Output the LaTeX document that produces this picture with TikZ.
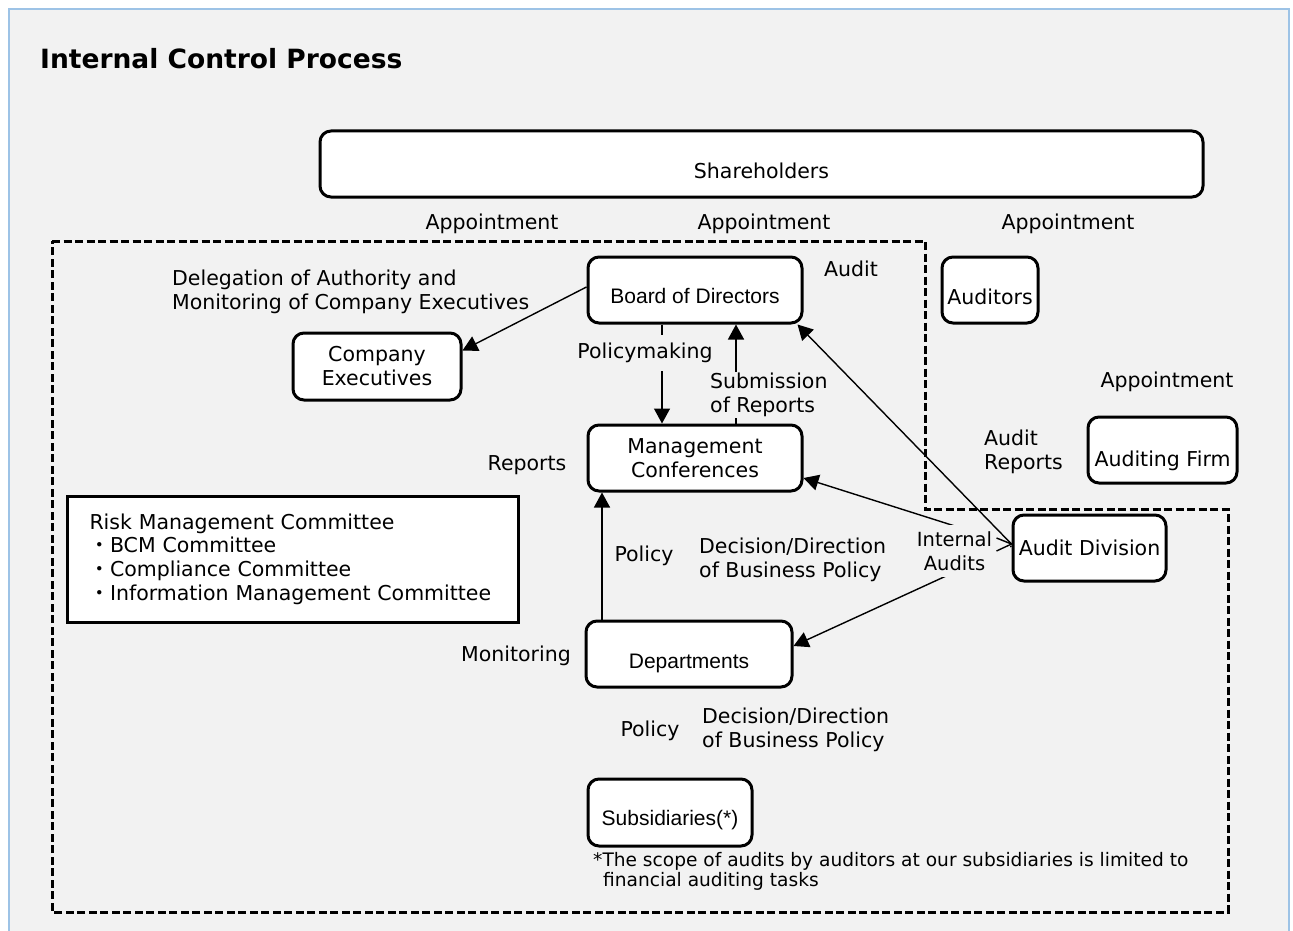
\documentclass[tikz,border=0pt]{standalone}
\usepackage{fontspec}
\setmainfont{DejaVu Sans}
\newfontfamily\arialf{Liberation Sans}
\newfontfamily\cjk{Noto Sans CJK JP}
\usetikzlibrary{arrows.meta,calc}
\definecolor{bgc}{HTML}{F2F2F2}
\definecolor{framec}{HTML}{9DC3E6}
\newcommand\lowertext[2]{\raisebox{-#1}[\height][\depth]{#2}}
\begin{document}
\begin{tikzpicture}[x=1pt,y=-1pt,
  lbl/.style={font=\fontsize{20.5}{24}\selectfont, inner sep=0pt},
  box/.style={draw, line width=3pt, rounded corners=11pt, fill=white, inner sep=0pt,
    font=\fontsize{20.5}{24}\selectfont, align=center},
  abox/.style={box, font=\arialf\fontsize{21}{24}\selectfont},
  conn/.style={line width=1.4pt},
  tri/.style={-{Triangle[length=15pt,width=16pt]}},
  dashreg/.style={line width=3pt, dash pattern=on 8pt off 3.5pt}]

\useasboundingbox (0,0) rectangle (1293,931);
\fill[white] (0,0) rectangle (1293,931);
\draw[framec, fill=bgc, line width=2.4pt] (9,9) rectangle (1289,960);

\node[anchor=base west, font=\bfseries\fontsize{26.5}{30}\selectfont, inner sep=0pt] (title) at (40,69) {Internal Control Process};

% dashed region
\draw[dashreg] (52,241) -- (925,241) -- (925,509) -- (1228,509) -- (1228,912) -- (52,912) -- cycle;

% boxes
\node[box, minimum width=883pt, minimum height=66pt] (sh) at (761.5,164) {\lowertext{7pt}{Shareholders}};
\node[abox, minimum width=214pt, minimum height=66pt] (bd) at (695,290) {\lowertext{6pt}{Board of Directors}};
\node[box, minimum width=96pt, minimum height=66pt] (au) at (990,290) {\lowertext{7pt}{Auditors}};
\node[box, minimum width=149pt, minimum height=66pt] (af) at (1162.5,450) {\lowertext{11pt}{Auditing Firm}};
\node[box, minimum width=153pt, minimum height=66pt] (ad) at (1089.5,548) {Audit Division};
\node[box, minimum width=214pt, minimum height=66pt] (mc) at (695,458) {Management\\Conferences};
\node[box, minimum width=168pt, minimum height=67pt] (ce) at (377,366.5) {Company\\Executives};
\node[abox, minimum width=206pt, minimum height=66pt] (dp) at (689,654) {\lowertext{9pt}{Departments}};
\node[abox, minimum width=164pt, minimum height=67pt] (sb) at (670,812.5) {\lowertext{8pt}{Subsidiaries(*)}};
\node[draw, line width=3pt, fill=white, text width=406pt, inner xsep=22.5pt, inner ysep=0pt,
  minimum height=126pt, align=left, font=\fontsize{20.5}{23.7}\selectfont] (rk) at (292.5,559)
  {Risk Management Committee\\{\cjk ・}BCM Committee\\{\cjk ・}Compliance Committee\\{\cjk ・}Information Management Committee};

% free labels
\node[lbl, anchor=base] (ap1) at (492,229) {Appointment};
\node[lbl, anchor=base] (ap2) at (764,229) {Appointment};
\node[lbl, anchor=base] (ap3) at (1068,229) {Appointment};
\node[lbl, anchor=base] (aud) at (851,276) {Audit};
\node[lbl, anchor=base] (ap4) at (1167,387) {Appointment};
\node[lbl, anchor=west, align=left] (dele) at (172,292) {Delegation of Authority and\\Monitoring of Company Executives};
\node[lbl, anchor=west, align=left] (arep) at (984,451.5) {Audit\\Reports};
\node[lbl] (rep) at (527,465) {Reports};
\node[lbl] (pol1) at (644,556) {Policy};
\node[lbl, anchor=west, align=left] (dec1) at (699,560) {Decision/Direction\\of Business Policy};
\node[lbl] (mon) at (516,656) {Monitoring};
\node[lbl] (pol2) at (650,731) {Policy};
\node[lbl, anchor=west, align=left] (dec2) at (702,729.5) {Decision/Direction\\of Business Policy};
\node[lbl, font=\fontsize{18.6}{20}\selectfont, anchor=west, align=left] (fn) at (593,871)
  {*The scope of audits by auditors at our subsidiaries is limited to\\\hspace*{10pt}financial auditing tasks};

% connectors
\draw[conn,tri] ([yshift=3pt]bd.west) -- ([yshift=16pt]ce.east);
\draw[conn,tri] ([xshift=-33pt]bd.south) -- ([xshift=-33pt]mc.north);
\node[lbl, fill=bgc, inner xsep=2pt, inner ysep=8pt] (pm) at (645,353) {Policymaking};
\draw[conn,tri] ([xshift=41pt]mc.north) -- ([xshift=41pt]bd.south);
\node[lbl, fill=bgc, inner sep=1pt, anchor=west, align=left] (sub) at (709,395) {Submission\\of Reports};
\draw[conn,tri] ([xshift=-87pt]dp.north) -- ([xshift=-93pt]mc.south);
\draw[conn,tri] ([yshift=4pt]ad.west) -- ([yshift=-20pt]mc.east);
\draw[conn,tri] ([yshift=2pt]ad.west) -- ([yshift=8pt]dp.east);
\node[lbl, font=\fontsize{19.5}{24}\selectfont, align=center, fill=bgc, inner xsep=18pt, inner ysep=6pt] (ia) at (954.5,551) {Internal\\Audits};
\draw[conn,tri] ([yshift=4pt]ad.west) -- ([xshift=-6pt]bd.south east);
\draw[conn] ([shift={(-15pt,10pt)}]ad.west) -- ([yshift=4pt]ad.west) -- ([shift={(-15pt,-3pt)}]ad.west);
\end{tikzpicture}
\end{document}
